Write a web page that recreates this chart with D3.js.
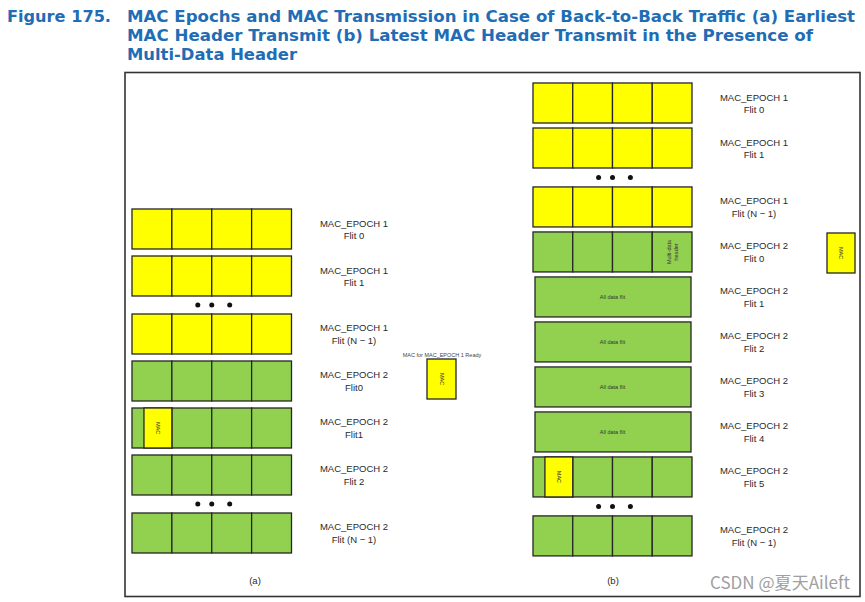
<!DOCTYPE html>
<html>
<head>
<meta charset="utf-8">
<script src="https://cdn.jsdelivr.net/npm/d3@7"></script>
<style>
  html, body { margin: 0; padding: 0; background: #fff; }
  svg { display: block; }
</style>
</head>
<body>
<script>
// ---------- data ----------
const figureNumber = "Figure 175.";
const titleLines = [
  "MAC Epochs and MAC Transmission in Case of Back-to-Back Traffic (a) Earliest",
  "MAC Header Transmit (b) Latest MAC Header Transmit in the Presence of",
  "Multi-Data Header"
];

const leftEpochs = [1, 1, 1, 2, 2, 2, 2];
const leftFlits  = ["Flit 0", "Flit 1", "Flit (N \u2212 1)", "Flit0", "Flit1", "Flit 2", "Flit (N \u2212 1)"];
const leftKinds  = ["plain", "plain", "plain", "plain", "mac", "plain", "plain"];
const leftDotsAfter = [1, 5];

const rightEpochs = [1, 1, 1, 2, 2, 2, 2, 2, 2, 2];
const rightFlits  = ["Flit 0", "Flit 1", "Flit (N \u2212 1)", "Flit 0", "Flit 1", "Flit 2", "Flit 3", "Flit 4", "Flit 5", "Flit (N \u2212 1)"];
const rightKinds  = ["plain", "plain", "plain", "mdh", "alldata", "alldata", "alldata", "alldata", "mac", "plain"];
const rightDotsAfter = [1, 8];

const cellsPerFlit = 4;
const panelCaptions = ["(a)", "(b)"];
const readyNote = "MAC for MAC_EPOCH 1 Ready";
const macText = "MAC";
const allDataText = "All data flit";
const mdhText = ["Multi-data", "header"];
const watermark = "CSDN @\u590f\u5929Aileft";

// ---------- drawing ----------
const W = 865, H = 602;
const YELLOW = "#ffff00", GREEN = "#92d050", STROKE = "#262626";
const epochColor = d3.scaleOrdinal().domain([1, 2]).range([YELLOW, GREEN]);

const svg = d3.select("body").append("svg")
  .attr("width", W).attr("height", H)
  .attr("viewBox", `0 0 ${W} ${H}`);
svg.append("rect").attr("width", W).attr("height", H).attr("fill", "#fff");

// Title
const titleFont = "Verdana, 'DejaVu Sans', sans-serif";
const titleColor = "#1f6db5";
svg.append("text")
  .attr("x", 7).attr("y", 22)
  .attr("font-family", titleFont).attr("font-weight", "bold").attr("font-size", 15)
  .attr("fill", titleColor)
  .attr("textLength", 104).attr("lengthAdjust", "spacingAndGlyphs")
  .text(figureNumber);
const titleLens = [728, 686, 170];
titleLines.forEach((t, i) => {
  svg.append("text")
    .attr("x", 127).attr("y", 22 + i * 19)
    .attr("font-family", titleFont).attr("font-weight", "bold").attr("font-size", 15)
    .attr("fill", titleColor)
    .attr("textLength", titleLens[i]).attr("lengthAdjust", "spacingAndGlyphs")
    .text(t);
});

// Frame
svg.append("rect")
  .attr("x", 125).attr("y", 72.5).attr("width", 735).attr("height", 524)
  .attr("fill", "none").attr("stroke", "#333").attr("stroke-width", 1.6);

const labelFont = "'Liberation Sans', Arial, sans-serif";
const rowH = 40;

function drawColumn(cfg) {
  const { epochs, flits, kinds, dotsAfter, x0, x1, y0, step, dotGap, labelX, caption, captionX } = cfg;
  const n = epochs.length;
  const slots = epochs.map((_, i) => i + dotsAfter.filter(d => d < i).length * dotGap);
  const y = d3.scaleLinear().domain([0, 1]).range([y0, y0 + step]);
  const x = d3.scaleLinear().domain([0, cellsPerFlit]).range([x0, x1]);

  const g = svg.append("g");
  const rows = g.selectAll("g.row").data(d3.range(n)).join("g").attr("class", "row")
    .attr("transform", i => `translate(0,${y(slots[i])})`);

  rows.each(function (i) {
    const r = d3.select(this);
    const fill = epochColor(epochs[i]);
    const kind = kinds[i];
    if (kind === "alldata") {
      r.append("rect").attr("x", x(0) + 2).attr("y", 0)
        .attr("width", x(cellsPerFlit) - x(0) - 3).attr("height", rowH)
        .attr("fill", fill).attr("stroke", STROKE).attr("stroke-width", 1.3);
      r.append("text").attr("x", (x(0) + x(cellsPerFlit)) / 2).attr("y", rowH / 2 + 2)
        .attr("text-anchor", "middle").attr("font-family", labelFont)
        .attr("font-size", 5.5).attr("fill", "#333").text(allDataText);
    } else {
      r.selectAll("rect.cell").data(d3.range(cellsPerFlit)).join("rect").attr("class", "cell")
        .attr("x", c => x(c)).attr("y", 0)
        .attr("width", c => x(c + 1) - x(c)).attr("height", rowH)
        .attr("fill", fill).attr("stroke", STROKE).attr("stroke-width", 1.3);
      if (kind === "mac") {
        r.append("rect").attr("x", x(0.3)).attr("y", 0)
          .attr("width", x(1) - x(0.3)).attr("height", rowH)
          .attr("fill", YELLOW).attr("stroke", STROKE).attr("stroke-width", 1.3);
        const cx = (x(0.3) + x(1)) / 2, cy = rowH / 2;
        r.append("text").attr("transform", `translate(${cx},${cy}) rotate(90)`)
          .attr("text-anchor", "middle").attr("dy", "0.35em")
          .attr("font-family", labelFont).attr("font-size", 5.5).attr("fill", "#333")
          .text(macText);
      }
      if (kind === "mdh") {
        const cx = (x(3) + x(4)) / 2, cy = rowH / 2;
        mdhText.forEach((t, k) => {
          r.append("text").attr("transform", `translate(${cx - 3.5 + k * 7},${cy}) rotate(-90)`)
            .attr("text-anchor", "middle").attr("dy", "0.35em")
            .attr("font-family", labelFont).attr("font-size", 5.5).attr("fill", "#333")
            .text(t);
        });
      }
    }
    r.append("text").attr("x", labelX).attr("y", rowH / 2 - 2.5)
      .attr("text-anchor", "middle").attr("font-family", labelFont)
      .attr("font-size", 9.5).attr("fill", "#2a2a2a")
      .text(`MAC_EPOCH ${epochs[i]}`);
    r.append("text").attr("x", labelX).attr("y", rowH / 2 + 10)
      .attr("text-anchor", "middle").attr("font-family", labelFont)
      .attr("font-size", 9.5).attr("fill", "#2a2a2a")
      .text(flits[i]);
  });

  dotsAfter.forEach(d => {
    const yy = y(slots[d]) + rowH + (y(slots[d + 1]) - y(slots[d]) - rowH) / 2;
    g.selectAll(null).data([1.65, 2, 2.45]).join("circle")
      .attr("cx", c => x(c)).attr("cy", yy).attr("r", 2.5).attr("fill", "#111");
  });

  svg.append("text").attr("x", captionX).attr("y", 584)
    .attr("text-anchor", "middle").attr("font-family", labelFont)
    .attr("font-size", 9.5).attr("fill", "#2a2a2a").text(caption);
}

drawColumn({
  epochs: leftEpochs, flits: leftFlits, kinds: leftKinds, dotsAfter: leftDotsAfter,
  x0: 132, x1: 291.5, y0: 209, step: 47, dotGap: 0.234, labelX: 354,
  caption: panelCaptions[0], captionX: 255
});
drawColumn({
  epochs: rightEpochs, flits: rightFlits, kinds: rightKinds, dotsAfter: rightDotsAfter,
  x0: 533, x1: 692, y0: 83, step: 45, dotGap: 0.31, labelX: 754,
  caption: panelCaptions[1], captionX: 613
});

function macBox(bx, by, bw, bh) {
  svg.append("rect").attr("x", bx).attr("y", by).attr("width", bw).attr("height", bh)
    .attr("fill", YELLOW).attr("stroke", STROKE).attr("stroke-width", 1.3);
  svg.append("text").attr("transform", `translate(${bx + bw / 2},${by + bh / 2}) rotate(90)`)
    .attr("text-anchor", "middle").attr("dy", "0.35em")
    .attr("font-family", labelFont).attr("font-size", 5.5).attr("fill", "#333")
    .text(macText);
}
macBox(427, 359, 29, 40);
macBox(827, 233, 28, 40);
svg.append("text").attr("x", 442).attr("y", 357)
  .attr("text-anchor", "middle").attr("font-family", labelFont)
  .attr("font-size", 5.5).attr("fill", "#444").text(readyNote);

svg.append("text").attr("x", 710).attr("y", 589)
  .attr("font-family", "'Noto Sans CJK SC', 'Noto Sans', sans-serif")
  .attr("font-size", 17).attr("fill", "#a0a0a0")
  .attr("textLength", 140).attr("lengthAdjust", "spacingAndGlyphs")
  .text(watermark);
</script>
</body>
</html>
